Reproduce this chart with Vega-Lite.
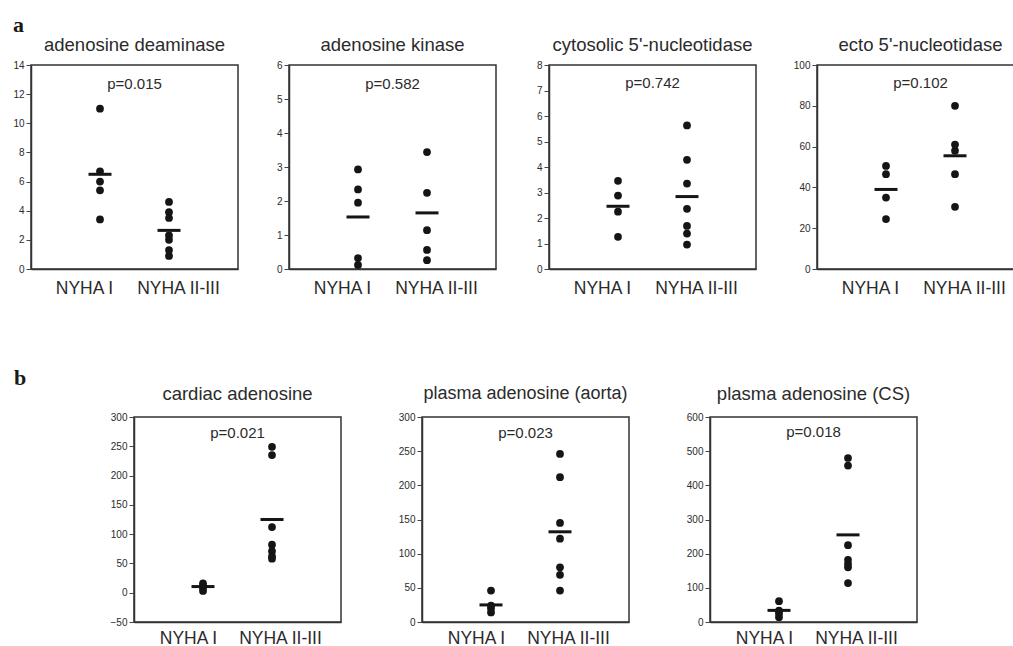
{
  "$schema": "https://vega.github.io/schema/vega-lite/v6.json",
  "background": "white",
  "padding": {"left": 5, "top": 13, "right": 0, "bottom": 0},
  "datasets": {
    "points": [
      {"panel": "ADA", "group": "NYHA I", "value": 11.0},
      {"panel": "ADA", "group": "NYHA I", "value": 6.7},
      {"panel": "ADA", "group": "NYHA I", "value": 6.0},
      {"panel": "ADA", "group": "NYHA I", "value": 5.4},
      {"panel": "ADA", "group": "NYHA I", "value": 3.4},
      {"panel": "ADA", "group": "NYHA II-III", "value": 4.6},
      {"panel": "ADA", "group": "NYHA II-III", "value": 3.9},
      {"panel": "ADA", "group": "NYHA II-III", "value": 3.5},
      {"panel": "ADA", "group": "NYHA II-III", "value": 2.3},
      {"panel": "ADA", "group": "NYHA II-III", "value": 2.0},
      {"panel": "ADA", "group": "NYHA II-III", "value": 1.3},
      {"panel": "ADA", "group": "NYHA II-III", "value": 0.9},
      {"panel": "AK", "group": "NYHA I", "value": 2.93},
      {"panel": "AK", "group": "NYHA I", "value": 2.34},
      {"panel": "AK", "group": "NYHA I", "value": 1.95},
      {"panel": "AK", "group": "NYHA I", "value": 0.32},
      {"panel": "AK", "group": "NYHA I", "value": 0.12},
      {"panel": "AK", "group": "NYHA II-III", "value": 3.44},
      {"panel": "AK", "group": "NYHA II-III", "value": 2.24},
      {"panel": "AK", "group": "NYHA II-III", "value": 1.14},
      {"panel": "AK", "group": "NYHA II-III", "value": 0.56},
      {"panel": "AK", "group": "NYHA II-III", "value": 0.26},
      {"panel": "cN", "group": "NYHA I", "value": 3.46},
      {"panel": "cN", "group": "NYHA I", "value": 2.88},
      {"panel": "cN", "group": "NYHA I", "value": 2.25},
      {"panel": "cN", "group": "NYHA I", "value": 1.26},
      {"panel": "cN", "group": "NYHA II-III", "value": 5.63},
      {"panel": "cN", "group": "NYHA II-III", "value": 4.28},
      {"panel": "cN", "group": "NYHA II-III", "value": 3.35},
      {"panel": "cN", "group": "NYHA II-III", "value": 2.36},
      {"panel": "cN", "group": "NYHA II-III", "value": 1.69},
      {"panel": "cN", "group": "NYHA II-III", "value": 1.39},
      {"panel": "cN", "group": "NYHA II-III", "value": 0.96},
      {"panel": "eN", "group": "NYHA I", "value": 50.5},
      {"panel": "eN", "group": "NYHA I", "value": 46.5},
      {"panel": "eN", "group": "NYHA I", "value": 35},
      {"panel": "eN", "group": "NYHA I", "value": 24.5},
      {"panel": "eN", "group": "NYHA II-III", "value": 80},
      {"panel": "eN", "group": "NYHA II-III", "value": 61},
      {"panel": "eN", "group": "NYHA II-III", "value": 58},
      {"panel": "eN", "group": "NYHA II-III", "value": 46.5},
      {"panel": "eN", "group": "NYHA II-III", "value": 30.5},
      {"panel": "card", "group": "NYHA I", "value": 16},
      {"panel": "card", "group": "NYHA I", "value": 12},
      {"panel": "card", "group": "NYHA I", "value": 8},
      {"panel": "card", "group": "NYHA I", "value": 3},
      {"panel": "card", "group": "NYHA II-III", "value": 249},
      {"panel": "card", "group": "NYHA II-III", "value": 235},
      {"panel": "card", "group": "NYHA II-III", "value": 112},
      {"panel": "card", "group": "NYHA II-III", "value": 82},
      {"panel": "card", "group": "NYHA II-III", "value": 71},
      {"panel": "card", "group": "NYHA II-III", "value": 62},
      {"panel": "card", "group": "NYHA II-III", "value": 58},
      {"panel": "aorta", "group": "NYHA I", "value": 46},
      {"panel": "aorta", "group": "NYHA I", "value": 24},
      {"panel": "aorta", "group": "NYHA I", "value": 20},
      {"panel": "aorta", "group": "NYHA I", "value": 14},
      {"panel": "aorta", "group": "NYHA II-III", "value": 246},
      {"panel": "aorta", "group": "NYHA II-III", "value": 212},
      {"panel": "aorta", "group": "NYHA II-III", "value": 145},
      {"panel": "aorta", "group": "NYHA II-III", "value": 122},
      {"panel": "aorta", "group": "NYHA II-III", "value": 80},
      {"panel": "aorta", "group": "NYHA II-III", "value": 69},
      {"panel": "aorta", "group": "NYHA II-III", "value": 46},
      {"panel": "CS", "group": "NYHA I", "value": 61},
      {"panel": "CS", "group": "NYHA I", "value": 33},
      {"panel": "CS", "group": "NYHA I", "value": 25},
      {"panel": "CS", "group": "NYHA I", "value": 14},
      {"panel": "CS", "group": "NYHA II-III", "value": 480},
      {"panel": "CS", "group": "NYHA II-III", "value": 458},
      {"panel": "CS", "group": "NYHA II-III", "value": 225},
      {"panel": "CS", "group": "NYHA II-III", "value": 182},
      {"panel": "CS", "group": "NYHA II-III", "value": 170},
      {"panel": "CS", "group": "NYHA II-III", "value": 160},
      {"panel": "CS", "group": "NYHA II-III", "value": 114}
    ],
    "means": [
      {"panel": "ADA", "group": "NYHA I", "mean": 6.5},
      {"panel": "ADA", "group": "NYHA II-III", "mean": 2.65},
      {"panel": "AK", "group": "NYHA I", "mean": 1.53},
      {"panel": "AK", "group": "NYHA II-III", "mean": 1.65},
      {"panel": "cN", "group": "NYHA I", "mean": 2.46},
      {"panel": "cN", "group": "NYHA II-III", "mean": 2.84},
      {"panel": "eN", "group": "NYHA I", "mean": 39},
      {"panel": "eN", "group": "NYHA II-III", "mean": 55.5},
      {"panel": "card", "group": "NYHA I", "mean": 10.5},
      {"panel": "card", "group": "NYHA II-III", "mean": 125},
      {"panel": "aorta", "group": "NYHA I", "mean": 25},
      {"panel": "aorta", "group": "NYHA II-III", "mean": 132},
      {"panel": "CS", "group": "NYHA I", "mean": 34},
      {"panel": "CS", "group": "NYHA II-III", "mean": 255}
    ],
    "stats": [
      {"panel": "ADA", "p": "p=0.015"},
      {"panel": "AK", "p": "p=0.582"},
      {"panel": "cN", "p": "p=0.742"},
      {"panel": "eN", "p": "p=0.102"},
      {"panel": "card", "p": "p=0.021"},
      {"panel": "aorta", "p": "p=0.023"},
      {"panel": "CS", "p": "p=0.018"}
    ],
    "none": []
  },
  "vconcat": [
    {
      "title": {"text": "a", "anchor": "start", "frame": "group", "font": "Liberation Serif", "fontSize": 22, "fontWeight": "bold", "color": "#1a1a1a", "dx": -18, "offset": -2},
      "hconcat": [
        {
          "width": 207, "height": 204,
          "title": {"text": "adenosine deaminase", "offset": 6},
          "layer": [
            {"data": {"name": "points"}, "transform": [{"filter": "datum.panel === 'ADA'"}],
             "mark": {"type": "circle", "size": 60, "opacity": 1, "color": "#151515"},
             "encoding": {
               "x": {"field": "group", "type": "nominal", "scale": {"type": "point", "domain": ["NYHA I", "NYHA II-III"], "padding": 1},
                     "axis": {"title": null, "labelOffset": {"condition": {"test": "datum.value === 'NYHA I'", "value": -16}, "value": 9}}},
               "y": {"field": "value", "type": "quantitative", "scale": {"domain": [0, 14], "nice": false, "zero": false},
                     "axis": {"title": null, "values": [0, 2, 4, 6, 8, 10, 12, 14], "labelOverlap": false, "labelFlush": false, "minExtent": 25, "maxExtent": 25}}
             }},
            {"data": {"name": "means"}, "transform": [{"filter": "datum.panel === 'ADA'"}],
             "mark": {"type": "tick", "orient": "horizontal", "size": 23, "thickness": 3, "opacity": 1, "color": "#151515"},
             "encoding": {"x": {"field": "group", "type": "nominal"},
                          "y": {"field": "mean", "type": "quantitative", "axis": {"title": null, "values": [0, 2, 4, 6, 8, 10, 12, 14], "labelOverlap": false, "labelFlush": false, "minExtent": 25, "maxExtent": 25}}}},
            {"data": {"name": "stats"}, "transform": [{"filter": "datum.panel === 'ADA'"}],
             "mark": {"type": "text", "fontSize": 15, "color": "#2b2b2b", "baseline": "middle"},
             "encoding": {"y": {"datum": 12.7, "type": "quantitative", "axis": {"title": null, "values": [0, 2, 4, 6, 8, 10, 12, 14], "labelOverlap": false, "labelFlush": false, "minExtent": 25, "maxExtent": 25}}, "text": {"field": "p"}}}
          ]
        },
        {
          "width": 207, "height": 204,
          "title": {"text": "adenosine kinase", "offset": 6},
          "layer": [
            {"data": {"name": "points"}, "transform": [{"filter": "datum.panel === 'AK'"}],
             "mark": {"type": "circle", "size": 60, "opacity": 1, "color": "#151515"},
             "encoding": {
               "x": {"field": "group", "type": "nominal", "scale": {"type": "point", "domain": ["NYHA I", "NYHA II-III"], "padding": 1},
                     "axis": {"title": null, "labelOffset": {"condition": {"test": "datum.value === 'NYHA I'", "value": -16}, "value": 9}}},
               "y": {"field": "value", "type": "quantitative", "scale": {"domain": [0, 6], "nice": false, "zero": false},
                     "axis": {"title": null, "values": [0, 1, 2, 3, 4, 5, 6], "labelOverlap": false, "labelFlush": false, "minExtent": 29, "maxExtent": 29}}
             }},
            {"data": {"name": "means"}, "transform": [{"filter": "datum.panel === 'AK'"}],
             "mark": {"type": "tick", "orient": "horizontal", "size": 23, "thickness": 3, "opacity": 1, "color": "#151515"},
             "encoding": {"x": {"field": "group", "type": "nominal"},
                          "y": {"field": "mean", "type": "quantitative", "axis": {"title": null, "values": [0, 1, 2, 3, 4, 5, 6], "labelOverlap": false, "labelFlush": false, "minExtent": 29, "maxExtent": 29}}}},
            {"data": {"name": "stats"}, "transform": [{"filter": "datum.panel === 'AK'"}],
             "mark": {"type": "text", "fontSize": 15, "color": "#2b2b2b", "baseline": "middle"},
             "encoding": {"y": {"datum": 5.44, "type": "quantitative", "axis": {"title": null, "values": [0, 1, 2, 3, 4, 5, 6], "labelOverlap": false, "labelFlush": false, "minExtent": 29, "maxExtent": 29}}, "text": {"field": "p"}}}
          ]
        },
        {
          "width": 207, "height": 204,
          "title": {"text": "cytosolic 5'-nucleotidase", "offset": 6},
          "layer": [
            {"data": {"name": "points"}, "transform": [{"filter": "datum.panel === 'cN'"}],
             "mark": {"type": "circle", "size": 60, "opacity": 1, "color": "#151515"},
             "encoding": {
               "x": {"field": "group", "type": "nominal", "scale": {"type": "point", "domain": ["NYHA I", "NYHA II-III"], "padding": 1},
                     "axis": {"title": null, "labelOffset": {"condition": {"test": "datum.value === 'NYHA I'", "value": -16}, "value": 9}}},
               "y": {"field": "value", "type": "quantitative", "scale": {"domain": [0, 8], "nice": false, "zero": false},
                     "axis": {"title": null, "values": [0, 1, 2, 3, 4, 5, 6, 7, 8], "labelOverlap": false, "labelFlush": false, "minExtent": 31, "maxExtent": 31}}
             }},
            {"data": {"name": "means"}, "transform": [{"filter": "datum.panel === 'cN'"}],
             "mark": {"type": "tick", "orient": "horizontal", "size": 23, "thickness": 3, "opacity": 1, "color": "#151515"},
             "encoding": {"x": {"field": "group", "type": "nominal"},
                          "y": {"field": "mean", "type": "quantitative", "axis": {"title": null, "values": [0, 1, 2, 3, 4, 5, 6, 7, 8], "labelOverlap": false, "labelFlush": false, "minExtent": 31, "maxExtent": 31}}}},
            {"data": {"name": "stats"}, "transform": [{"filter": "datum.panel === 'cN'"}],
             "mark": {"type": "text", "fontSize": 15, "color": "#2b2b2b", "baseline": "middle"},
             "encoding": {"y": {"datum": 7.29, "type": "quantitative", "axis": {"title": null, "values": [0, 1, 2, 3, 4, 5, 6, 7, 8], "labelOverlap": false, "labelFlush": false, "minExtent": 31, "maxExtent": 31}}, "text": {"field": "p"}}}
          ]
        },
        {
          "width": 207, "height": 204,
          "title": {"text": "ecto 5'-nucleotidase", "offset": 6},
          "layer": [
            {"data": {"name": "points"}, "transform": [{"filter": "datum.panel === 'eN'"}],
             "mark": {"type": "circle", "size": 60, "opacity": 1, "color": "#151515"},
             "encoding": {
               "x": {"field": "group", "type": "nominal", "scale": {"type": "point", "domain": ["NYHA I", "NYHA II-III"], "padding": 1},
                     "axis": {"title": null, "labelOffset": {"condition": {"test": "datum.value === 'NYHA I'", "value": -16}, "value": 9}}},
               "y": {"field": "value", "type": "quantitative", "scale": {"domain": [0, 100], "nice": false, "zero": false},
                     "axis": {"title": null, "values": [0, 20, 40, 60, 80, 100], "labelOverlap": false, "labelFlush": false, "minExtent": 39, "maxExtent": 39}}
             }},
            {"data": {"name": "means"}, "transform": [{"filter": "datum.panel === 'eN'"}],
             "mark": {"type": "tick", "orient": "horizontal", "size": 23, "thickness": 3, "opacity": 1, "color": "#151515"},
             "encoding": {"x": {"field": "group", "type": "nominal"},
                          "y": {"field": "mean", "type": "quantitative", "axis": {"title": null, "values": [0, 20, 40, 60, 80, 100], "labelOverlap": false, "labelFlush": false, "minExtent": 39, "maxExtent": 39}}}},
            {"data": {"name": "stats"}, "transform": [{"filter": "datum.panel === 'eN'"}],
             "mark": {"type": "text", "fontSize": 15, "color": "#2b2b2b", "baseline": "middle"},
             "encoding": {"y": {"datum": 91.4, "type": "quantitative", "axis": {"title": null, "values": [0, 20, 40, 60, 80, 100], "labelOverlap": false, "labelFlush": false, "minExtent": 39, "maxExtent": 39}}, "text": {"field": "p"}}}
          ]
        }
      ]
    },
    {
      "title": {"text": "b", "anchor": "start", "frame": "group", "font": "Liberation Serif", "fontSize": 22, "fontWeight": "bold", "color": "#1a1a1a", "dx": -17, "offset": -6},
      "hconcat": [
        {
          "width": 57, "height": 205,
          "view": {"stroke": null},
          "data": {"name": "none"},
          "mark": {"type": "text"},
          "encoding": {}
        },
        {
          "width": 207, "height": 205,
          "title": {"text": "cardiac adenosine", "fontSize": 18.5},
          "layer": [
            {"data": {"name": "points"}, "transform": [{"filter": "datum.panel === 'card'"}],
             "mark": {"type": "circle", "size": 60, "opacity": 1, "color": "#151515"},
             "encoding": {
               "x": {"field": "group", "type": "nominal", "scale": {"type": "point", "domain": ["NYHA I", "NYHA II-III"], "padding": 1},
                     "axis": {"title": null, "labelPadding": 7, "labelOffset": {"condition": {"test": "datum.value === 'NYHA I'", "value": -15}, "value": 8}}},
               "y": {"field": "value", "type": "quantitative", "scale": {"domain": [-50, 300], "nice": false, "zero": false},
                     "axis": {"title": null, "values": [-50, 0, 50, 100, 150, 200, 250, 300], "labelOverlap": false, "labelFlush": false, "minExtent": 25, "maxExtent": 25}}
             }},
            {"data": {"name": "means"}, "transform": [{"filter": "datum.panel === 'card'"}],
             "mark": {"type": "tick", "orient": "horizontal", "size": 23, "thickness": 3, "opacity": 1, "color": "#151515"},
             "encoding": {"x": {"field": "group", "type": "nominal"},
                          "y": {"field": "mean", "type": "quantitative", "axis": {"title": null, "values": [-50, 0, 50, 100, 150, 200, 250, 300], "labelOverlap": false, "labelFlush": false, "minExtent": 25, "maxExtent": 25}}}},
            {"data": {"name": "stats"}, "transform": [{"filter": "datum.panel === 'card'"}],
             "mark": {"type": "text", "fontSize": 15, "color": "#2b2b2b", "baseline": "middle"},
             "encoding": {"y": {"datum": 272.8, "type": "quantitative", "axis": {"title": null, "values": [-50, 0, 50, 100, 150, 200, 250, 300], "labelOverlap": false, "labelFlush": false, "minExtent": 25, "maxExtent": 25}}, "text": {"field": "p"}}}
          ]
        },
        {
          "width": 207, "height": 205,
          "title": {"text": "plasma adenosine (aorta)", "fontSize": 18},
          "layer": [
            {"data": {"name": "points"}, "transform": [{"filter": "datum.panel === 'aorta'"}],
             "mark": {"type": "circle", "size": 60, "opacity": 1, "color": "#151515"},
             "encoding": {
               "x": {"field": "group", "type": "nominal", "scale": {"type": "point", "domain": ["NYHA I", "NYHA II-III"], "padding": 1},
                     "axis": {"title": null, "labelPadding": 7, "labelOffset": {"condition": {"test": "datum.value === 'NYHA I'", "value": -15}, "value": 8}}},
               "y": {"field": "value", "type": "quantitative", "scale": {"domain": [0, 300], "nice": false, "zero": false},
                     "axis": {"title": null, "values": [0, 50, 100, 150, 200, 250, 300], "labelOverlap": false, "labelFlush": false, "minExtent": 59, "maxExtent": 59}}
             }},
            {"data": {"name": "means"}, "transform": [{"filter": "datum.panel === 'aorta'"}],
             "mark": {"type": "tick", "orient": "horizontal", "size": 23, "thickness": 3, "opacity": 1, "color": "#151515"},
             "encoding": {"x": {"field": "group", "type": "nominal"},
                          "y": {"field": "mean", "type": "quantitative", "axis": {"title": null, "values": [0, 50, 100, 150, 200, 250, 300], "labelOverlap": false, "labelFlush": false, "minExtent": 59, "maxExtent": 59}}}},
            {"data": {"name": "stats"}, "transform": [{"filter": "datum.panel === 'aorta'"}],
             "mark": {"type": "text", "fontSize": 15, "color": "#2b2b2b", "baseline": "middle"},
             "encoding": {"y": {"datum": 276.7, "type": "quantitative", "axis": {"title": null, "values": [0, 50, 100, 150, 200, 250, 300], "labelOverlap": false, "labelFlush": false, "minExtent": 59, "maxExtent": 59}}, "text": {"field": "p"}}}
          ]
        },
        {
          "width": 207, "height": 205,
          "title": {"text": "plasma adenosine (CS)", "fontSize": 18.5},
          "layer": [
            {"data": {"name": "points"}, "transform": [{"filter": "datum.panel === 'CS'"}],
             "mark": {"type": "circle", "size": 60, "opacity": 1, "color": "#151515"},
             "encoding": {
               "x": {"field": "group", "type": "nominal", "scale": {"type": "point", "domain": ["NYHA I", "NYHA II-III"], "padding": 1},
                     "axis": {"title": null, "labelPadding": 7, "labelOffset": {"condition": {"test": "datum.value === 'NYHA I'", "value": -15}, "value": 8}}},
               "y": {"field": "value", "type": "quantitative", "scale": {"domain": [0, 600], "nice": false, "zero": false},
                     "axis": {"title": null, "values": [0, 100, 200, 300, 400, 500, 600], "labelOverlap": false, "labelFlush": false, "minExtent": 59, "maxExtent": 59}}
             }},
            {"data": {"name": "means"}, "transform": [{"filter": "datum.panel === 'CS'"}],
             "mark": {"type": "tick", "orient": "horizontal", "size": 23, "thickness": 3, "opacity": 1, "color": "#151515"},
             "encoding": {"x": {"field": "group", "type": "nominal"},
                          "y": {"field": "mean", "type": "quantitative", "axis": {"title": null, "values": [0, 100, 200, 300, 400, 500, 600], "labelOverlap": false, "labelFlush": false, "minExtent": 59, "maxExtent": 59}}}},
            {"data": {"name": "stats"}, "transform": [{"filter": "datum.panel === 'CS'"}],
             "mark": {"type": "text", "fontSize": 15, "color": "#2b2b2b", "baseline": "middle"},
             "encoding": {"y": {"datum": 555.9, "type": "quantitative", "axis": {"title": null, "values": [0, 100, 200, 300, 400, 500, 600], "labelOverlap": false, "labelFlush": false, "minExtent": 59, "maxExtent": 59}}, "text": {"field": "p"}}}
          ]
        }
      ]
    }
  ],
  "spacing": 68,
  "config": {
    "font": "Liberation Sans",
    "view": {"stroke": "#333333", "strokeWidth": 1.5},
    "concat": {"spacing": 20},
    "axis": {"grid": false, "domainColor": "#333333", "domainWidth": 1.5, "labelColor": "#2b2b2b", "labelBound": false},
    "axisX": {"ticks": false, "labelFontSize": 17.5, "labelPadding": 10, "labelAngle": 0, "minExtent": 25, "maxExtent": 25},
    "axisY": {"tickSize": 5, "tickColor": "#444444", "tickWidth": 1, "labelFontSize": 10, "labelPadding": 2, "labelOverlap": false},
    "title": {"fontSize": 18.5, "fontWeight": "normal", "color": "#2b2b2b", "offset": 9}
  }
}
